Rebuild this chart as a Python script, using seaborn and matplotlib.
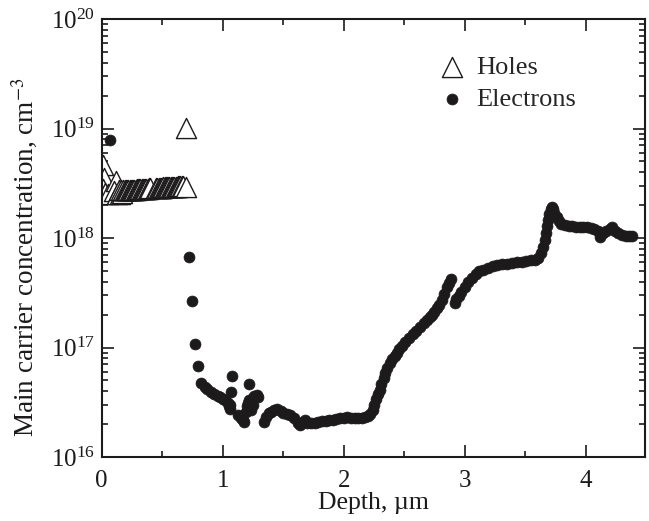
"""Main carrier concentration depth profile (holes and electrons)."""

import matplotlib

matplotlib.use("Agg")
import matplotlib.pyplot as plt
import numpy as np
import seaborn as sns
from matplotlib.ticker import LogLocator, MultipleLocator, NullFormatter

# ── Data ────────────────────────────────────────────────

hole_depth = [
    0.01, 0.02, 0.01, 0.03, 0.05, 0.12, 0.10, 0.13, 0.15, 0.17,
    0.14, 0.16, 0.18, 0.19, 0.20, 0.21, 0.22, 0.23, 0.24, 0.25,
    0.26, 0.27, 0.28, 0.29, 0.30, 0.31, 0.32, 0.33, 0.34, 0.35,
    0.36, 0.37, 0.38, 0.39, 0.40, 0.45, 0.46, 0.47, 0.48, 0.49,
    0.50, 0.51, 0.52, 0.53, 0.54, 0.55, 0.56, 0.57, 0.58, 0.59,
    0.60, 0.61, 0.62, 0.63, 0.64, 0.65, 0.66, 0.67, 0.70, 0.70,
]
hole_conc = [
    4.6e18, 3.5e18, 2.8e18, 2.6e18, 2.5e18, 3.3e18, 2.7e18, 2.55e18, 2.55e18, 2.6e18,
    2.75e18, 2.72e18, 2.72e18, 2.73e18, 2.73e18, 2.74e18, 2.74e18, 2.75e18, 2.74e18, 2.76e18,
    2.76e18, 2.77e18, 2.77e18, 2.78e18, 2.78e18, 2.79e18, 2.8e18, 2.8e18, 2.81e18, 2.82e18,
    2.82e18, 2.83e18, 2.83e18, 2.84e18, 2.85e18, 2.86e18, 2.87e18, 2.87e18, 2.88e18, 2.88e18,
    2.89e18, 2.9e18, 2.9e18, 2.91e18, 2.91e18, 2.92e18, 2.92e18, 2.93e18, 2.93e18, 2.94e18,
    2.94e18, 2.95e18, 2.95e18, 2.96e18, 2.96e18, 2.97e18, 2.97e18, 2.98e18, 2.9e18, 1.01e19,
]

electron_depth = [
    0.07, 0.72, 0.75, 0.77, 0.80,
    0.82, 0.85, 0.87, 0.90, 0.93, 0.96, 0.98, 1.00, 1.02, 1.04, 1.05, 1.06, 1.06,
    1.08, 1.07, 1.22,
    1.13, 1.15, 1.17, 1.18, 1.19, 1.20, 1.21, 1.22, 1.24, 1.26, 1.28, 1.29, 1.25, 1.23,
    1.34, 1.36, 1.38, 1.40, 1.42, 1.45, 1.48, 1.50, 1.53, 1.56, 1.59, 1.62, 1.64, 1.66,
    1.68, 1.70, 1.73, 1.76, 1.79, 1.82, 1.85, 1.88, 1.91, 1.94, 1.97, 2.00, 2.03, 2.06,
    2.09, 2.12, 2.15, 2.18, 2.20, 2.22, 2.24, 2.25, 2.27, 2.28, 2.30, 2.31, 2.33, 2.34,
    2.36, 2.38, 2.40, 2.42, 2.44, 2.46, 2.48, 2.51, 2.54, 2.57, 2.60, 2.63, 2.66, 2.69,
    2.71, 2.73, 2.75, 2.77, 2.79, 2.81, 2.83, 2.85, 2.87, 2.89,
    2.92, 2.93, 2.95, 2.97, 3.00, 3.03, 3.06, 3.09, 3.12, 3.15, 3.19, 3.23, 3.27, 3.31,
    3.35, 3.39, 3.43, 3.47, 3.51, 3.55, 3.58, 3.61, 3.63, 3.65, 3.66, 3.67, 3.68, 3.69,
    3.70, 3.71, 3.72, 3.73, 3.74, 3.76, 3.78, 3.80, 3.83, 3.86, 3.89, 3.92, 3.95, 3.98,
    4.01, 4.04, 4.07, 4.10, 4.12, 4.14, 4.17, 4.20, 4.22, 4.24, 4.27, 4.30, 4.33, 4.36,
    4.38,
]
electron_conc = [
    7.9e18, 6.75e17, 2.67e17, 1.08e17, 6.8e16,
    4.7e16, 4.4e16, 4.2e16, 3.95e16, 3.8e16, 3.6e16, 3.55e16, 3.4e16, 3.3e16, 3.1e16, 2.9e16, 2.75e16, 3.0e16,
    5.5e16, 3.9e16, 4.6e16,
    2.4e16, 2.25e16, 2.2e16, 2.1e16, 2.6e16, 2.9e16, 3.1e16, 3.3e16, 3.4e16, 3.6e16, 3.7e16, 3.5e16, 3.0e16, 2.7e16,
    2.1e16, 2.3e16, 2.5e16, 2.6e16, 2.7e16, 2.75e16, 2.65e16, 2.55e16, 2.45e16, 2.4e16, 2.25e16, 2.05e16, 1.97e16, 2.1e16,
    2.2e16, 2.05e16, 2.05e16, 2.05e16, 2.1e16, 2.12e16, 2.15e16, 2.18e16, 2.2e16, 2.22e16, 2.25e16, 2.27e16, 2.3e16, 2.28e16,
    2.27e16, 2.25e16, 2.27e16, 2.3e16, 2.35e16, 2.45e16, 2.7e16, 3.0e16, 3.4e16, 3.8e16, 4.1e16, 4.6e16, 5.3e16, 5.8e16,
    6.5e16, 7.2e16, 7.8e16, 8.4e16, 8.9e16, 9.6e16, 1.04e17, 1.12e17, 1.22e17, 1.33e17, 1.43e17, 1.55e17, 1.67e17, 1.8e17,
    1.9e17, 2.0e17, 2.12e17, 2.28e17, 2.45e17, 2.72e17, 3.1e17, 3.55e17, 3.9e17, 4.2e17,
    2.55e17, 2.75e17, 2.95e17, 3.2e17, 3.55e17, 3.95e17, 4.3e17, 4.65e17, 4.95e17, 5.15e17, 5.3e17, 5.5e17, 5.65e17, 5.75e17,
    5.85e17, 5.95e17, 6.05e17, 6.1e17, 6.2e17, 6.25e17, 6.35e17, 6.6e17, 7.3e17, 8.3e17, 9.5e17, 1.1e18, 1.28e18, 1.46e18,
    1.65e18, 1.85e18, 1.93e18, 1.85e18, 1.7e18, 1.55e18, 1.42e18, 1.35e18, 1.31e18, 1.29e18, 1.28e18, 1.27e18, 1.27e18, 1.26e18,
    1.25e18, 1.24e18, 1.22e18, 1.15e18, 1.02e18, 1.12e18, 1.16e18, 1.22e18, 1.25e18, 1.15e18, 1.1e18, 1.07e18, 1.05e18, 1.04e18,
    1.04e18,
]

# ── Style ───────────────────────────────────────────────

sns.set_theme(style="ticks")
plt.rcParams["font.family"] = ["Liberation Serif", "DejaVu Serif"]
plt.rcParams["mathtext.fontset"] = "stix"

INK = "#1c1a1b"

fig = plt.figure(figsize=(6.49, 5.21), dpi=100)
ax = fig.add_axes([0.1567, 0.1228, 0.8371, 0.8407])

sns.scatterplot(x=hole_depth, y=hole_conc, marker="^", s=210,
                color="white", edgecolor=INK, linewidth=1.0,
                label="Holes", ax=ax, zorder=2)
sns.scatterplot(x=electron_depth, y=electron_conc, marker="o", s=62,
                color=INK, edgecolor=INK, linewidth=0.5,
                label="Electrons", ax=ax, zorder=3)

ax.set_yscale("log")
ax.set_xlim(0, 4.49)
ax.set_ylim(1e16, 1e20)
ax.xaxis.set_major_locator(MultipleLocator(1))
ax.xaxis.set_minor_locator(MultipleLocator(0.5))
ax.yaxis.set_major_locator(LogLocator(base=10, numticks=10))
ax.yaxis.set_minor_locator(LogLocator(base=10, subs=np.arange(2, 10), numticks=20))
ax.yaxis.set_minor_formatter(NullFormatter())

ax.tick_params(which="both", direction="in", top=True, right=True,
               width=1.2, colors=INK, labelsize=18, labelcolor=INK)
ax.tick_params(which="major", length=8.5)
ax.tick_params(axis="x", which="major", pad=9)
ax.tick_params(axis="y", which="major", pad=5)
ax.tick_params(which="minor", length=4.5)
for spine in ax.spines.values():
    spine.set_linewidth(1.5)
    spine.set_color(INK)

ax.set_xlabel("Depth, µm", fontsize=18.5, color=INK)
ax.set_ylabel("Main carrier concentration, cm$^{-3}$", fontsize=19.5, color=INK)
ax.xaxis.set_label_coords(0.5, -0.08)
ax.yaxis.set_label_coords(-0.141, 0.457)
ax.yaxis.label.set_verticalalignment("center")
ax.xaxis.label.set_verticalalignment("top")

ax.legend(loc="upper left", bbox_to_anchor=(0.593, 0.94), frameon=False,
          fontsize=19, handlelength=1.3, handletextpad=0.3,
          labelspacing=0.3, borderaxespad=0)

fig.savefig("out.png", dpi=100)
